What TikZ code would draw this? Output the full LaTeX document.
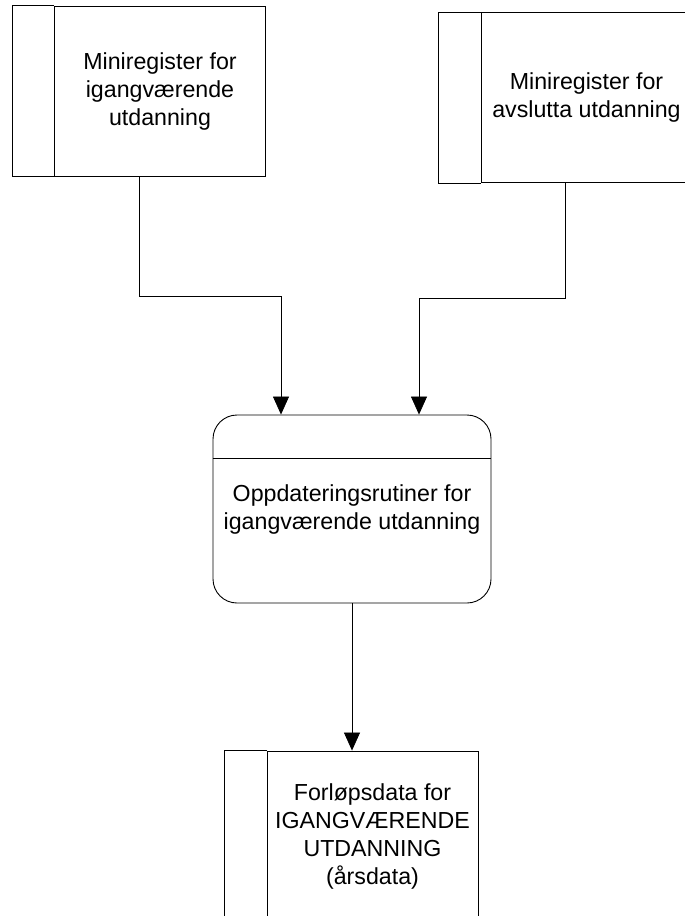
\documentclass[tikz,border=0pt]{standalone}
\usepackage{fontspec}
\setmainfont{Liberation Sans}
\usepackage{tikz}
\usetikzlibrary{arrows.meta}

\tikzset{
  store/.style = {draw, line width=0.9pt, minimum width=211pt, minimum height=170pt,
                  inner sep=0pt, align=center, font=\fontsize{23.2}{28}\selectfont},
  proc/.style = {draw, line width=0.9pt, rounded corners=24pt, minimum width=278pt,
                 minimum height=188pt, inner sep=0pt, align=center,
                 font=\fontsize{23.2}{28}\selectfont},
  flow/.style = {line width=0.7pt, -{Triangle[length=18pt,width=16pt]}}
}

\begin{document}
\begin{tikzpicture}[x=1pt,y=-1pt]
\useasboundingbox (0,0) rectangle (685,916);
\clip (0,0) rectangle (685,916);

\node[store] (regA) at (160,91) {Miniregister for\\igangværende\\utdanning};
\node[store] (regB) at (586.5,97.5) {Miniregister for\\avslutta utdanning};
\node[proc] (proc) at (352,509) {Oppdateringsrutiner for\\igangværende utdanning};
\node[store] (data) at (372.5,836) {Forløpsdata for\\IGANGVÆRENDE\\UTDANNING\\(årsdata)};

\foreach \n in {regA,regB,data}
  \draw[line width=0.9pt] (\n.north west) -- ++(-42,0) |- (\n.south west);
\draw[line width=0.9pt] (proc.west |- 0,458) -- (proc.east |- 0,458);

\draw[flow] ([xshift=-21pt]regA.south) -- ++(0,120) -| ([xshift=-71pt]proc.north);
\draw[flow] ([xshift=-21pt]regB.south) -- ++(0,115) -| ([xshift=67pt]proc.north);
\draw[flow] (proc.south) -- (proc.south |- data.north);
\end{tikzpicture}
\end{document}
